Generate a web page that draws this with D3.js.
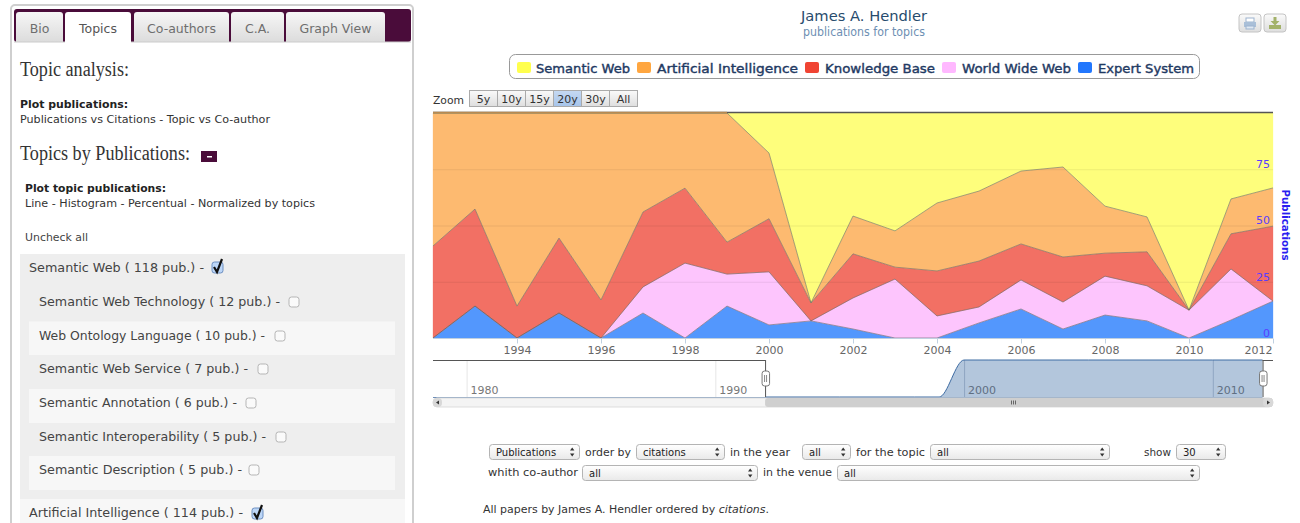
<!DOCTYPE html>
<html><head><meta charset="utf-8">
<script src="https://cdn.jsdelivr.net/npm/d3@7/dist/d3.min.js"></script>
<style>html,body{margin:0;padding:0;background:#fff;overflow:hidden}svg{display:block}</style>
</head><body><div id="c"></div>
<script>
// ---- chart data (percent share per year) ----
const years = [1992,1993,1994,1995,1996,1997,1998,1999,2000,2001,2002,2003,2004,2005,2006,2007,2008,2009,2010,2011,2012];
const expertSystem = [0,14.2,0,11.1,0,11.1,0,14.2,5.8,7.6,4,0,0,6.7,12.9,4,10.2,7.6,0,8,16.4];
const worldWideWeb = [0,0,0,0,0,11.6,33.3,14.2,23.6,0,13.8,26.2,9.8,7.1,12.9,12,17.3,15.6,12.4,22.7,0];
const knowledgeBase = [40.9,43.1,14.2,33.3,16.9,33.3,33.3,14.2,23.6,8,19.6,5.3,20,20.4,16,20,10.2,15.1,0,15.6,33.3];
const artificialIntelligence = [59.1,42.7,85.8,55.6,83.1,44,33.4,57.4,29.2,0,16.8,16.1,30.2,31.1,32.4,40,20.9,15.5,0,15.5,17];
const semanticWeb = [0,0,0,0,0,0,0,0,17.8,84.4,45.8,52.4,40,34.7,25.8,24,41.4,46.2,87.6,38.2,33.3];
const seriesNames = ["Semantic Web","Artificial Intelligence","Knowledge Base","World Wide Web","Expert System"];
const yTicks = [0,25,50,75];
const xTicks = [1994,1996,1998,2000,2002,2004,2006,2008,2010,2012];
const navYears = [1978,1985,1990,1995,1998,1999,2000,2001,2005,2010,2013];
const navValues = [0,0,0,0,0,0,100,100,100,100,100];
const navTicks = [1980,1990,2000,2010];
const zoomLabels = ["5y","10y","15y","20y","30y","All"];
const topicRows = [["Semantic Web Technology ( 12 pub.) -"],["Web Ontology Language ( 10 pub.) -"],["Semantic Web Service ( 7 pub.) -"],["Semantic Annotation ( 6 pub.) -"],["Semantic Interoperability ( 5 pub.) -"],["Semantic Description ( 5 pub.) -"]];

// ---- styles ----
const areaColors = {"Semantic Web":"#fefe7c","Artificial Intelligence":"#fdba70","Knowledge Base":"#f27064","World Wide Web":"#fdc5fd","Expert System":"#5397fd"};
const swatchColors = ["#ffff4d","#ffa640","#f04433","#ffb8ff","#2277fd"];
const SANS = "'DejaVu Sans',sans-serif", SERIF = "'Liberation Serif',serif";

const svg = d3.select("#c").append("svg").attr("width",1300).attr("height",523);
const defs = svg.append("defs");
const grad = (id,a,b)=>{const g=defs.append("linearGradient").attr("id",id).attr("x1",0).attr("x2",0).attr("y1",0).attr("y2",1);
  g.append("stop").attr("offset",0).attr("stop-color",a);g.append("stop").attr("offset",1).attr("stop-color",b);};
grad("tabG","#f6f6f6","#dcdcdc"); grad("selG","#ffffff","#e9e9e9"); grad("btnG","#fafafa","#dedede"); grad("selBtn","#c6d9f2","#a6c4ea");

function t(x,y,s,o={}){
  const e=svg.append("text").attr("x",x).attr("y",y).text(s)
    .attr("font-family",o.font||SANS).attr("font-size",o.size||12).attr("fill",o.fill||"#333")
    .attr("text-anchor",o.anchor||"start");
  if(o.weight)e.attr("font-weight",o.weight);
  if(o.italic)e.attr("font-style","italic");
  if(o.w)e.attr("textLength",o.w).attr("lengthAdjust","spacingAndGlyphs");
  return e;
}
function rect(x,y,w,h,fill,o={}){
  return svg.append("rect").attr("x",x).attr("y",y).attr("width",w).attr("height",h).attr("fill",fill)
    .attr("rx",o.rx||0).attr("stroke",o.stroke||"none").attr("stroke-width",o.sw||1);
}
function hline(x1,y1,x2,y2,c,sw=1){return svg.append("line").attr("x1",x1).attr("y1",y1).attr("x2",x2).attr("y2",y2).attr("stroke",c).attr("stroke-width",sw);}

// ---- left panel ----
rect(11,5,402,530,"#fff",{rx:4,stroke:"#cfcfcf",sw:2});
rect(14,9,397,33,"#4a0c3a",{rx:3});
[["Bio",16,47,0],["Topics",65,66,1],["Co-authors",134,95,0],["C.A.",231,53,0],["Graph View",286,99,0]].forEach(([s,x,w,a])=>{
  svg.append("path").attr("d",`M${x},${a?44:42}V15Q${x},12 ${x+3},12H${x+w-3}Q${x+w},12 ${x+w},15V${a?44:42}Z`).attr("fill",a?"#fff":"url(#tabG)");
  t(x+w/2,32.5,s,{size:12.5,anchor:"middle",fill:a?"#555":"#6e6e6e"});
});
hline(14,42,65,42,"#ccc");hline(131,42,411,42,"#ccc");
t(20,76,"Topic analysis:",{font:SERIF,size:20,fill:"#333",w:109});
t(20,108,"Plot publications:",{size:11,weight:"bold",fill:"#222",w:108});
t(20,123,"Publications vs Citations - Topic vs Co-author",{size:11,fill:"#333",w:250});
t(20,160,"Topics by Publications:",{font:SERIF,size:20,fill:"#333",w:170});
rect(201,151,16,11,"#4a0c3a");rect(207,156,5,1.5,"#fff");
t(25,192,"Plot topic publications:",{size:11,weight:"bold",fill:"#222",w:141});
t(25,207,"Line - Histogram - Percentual - Normalized by topics",{size:11,fill:"#333",w:290});
t(25,241,"Uncheck all",{size:11,fill:"#444",w:63});
rect(20,254,385,245,"#eeeeee");
rect(20,499,385,24,"#f7f7f7");
[321.5,389,456].forEach(y=>rect(29,y,366,y<330?33.5:34,"#f7f7f7"));
function checkbox(x,y,on){
  if(on){
    rect(x,y,11,11,"#bcd6f7",{rx:2.5,stroke:"#6d8fc0"});
    svg.append("path").attr("d",`M${x+2},${y+5}L${x+5},${y+10}L${x+10},${y-3}`).attr("fill","none").attr("stroke","#111").attr("stroke-width",2.2);
  } else rect(x,y,10,10,"#fafafa",{rx:2.5,stroke:"#b5b5b5"});
}
t(29,272,"Semantic Web ( 118 pub.) -",{size:12.5,fill:"#444",w:175});
checkbox(212,262,true);
const rowBase=[306,340,373,407,441,474], rowBox=[289,275,258,246,276,249], rowW=[241,226,209,198,227,203];
topicRows.forEach((r,i)=>{
  t(39,rowBase[i],r[0],{size:12.5,fill:"#444",w:rowW[i]});
  checkbox(rowBox[i],rowBase[i]-9,false);
});
t(29,517,"Artificial Intelligence ( 114 pub.) -",{size:12.5,fill:"#444",w:214});
checkbox(252,508,true);

// ---- title, legend, buttons ----
t(864,21,"James A. Hendler",{size:14,anchor:"middle",fill:"#274b6d",w:126});
t(864,36,"publications for topics",{size:11.5,anchor:"middle",fill:"#6d8fb3",w:122});
[[1239,"p"],[1264,"d"]].forEach(([x,k])=>{
  rect(x,14,22,18,"url(#btnG)",{rx:3,stroke:"#c4c4c4"});
  if(k==="p"){
    rect(x+7,18,8,4,"#fff",{stroke:"#9db4cf"});rect(x+5,22,12,5,"#a9bfd8");rect(x+7,26,8,3,"#dfe8f2",{stroke:"#9db4cf"});
  } else {
    rect(x+5,25,12,4,"#a3b26a");
    svg.append("path").attr("d",`M${x+9.5},17h3v4h3l-4.5,4.5l-4.5,-4.5h3z`).attr("fill","#a3b26a");
  }
});
rect(509.5,54.5,690,24,"#fff",{rx:6,stroke:"#999"});
const legX=[517,637,805,942,1078], legT=[536,657,825,962,1098], legW=[94,141,110,109,96];
seriesNames.forEach((n,i)=>{
  rect(legX[i],62,14,11,swatchColors[i],{rx:2});
  t(legT[i],73,n,{size:12.5,fill:"#1f3a63",w:legW[i]}).attr("stroke","#1f3a63").attr("stroke-width",.4);
});
t(433,104,"Zoom",{size:11,fill:"#333",w:31});
const zx=d3.scaleBand().domain(zoomLabels).range([469.5,637.5]);
zoomLabels.forEach(z=>{
  rect(zx(z),90.5,zx.bandwidth(),16,z==="20y"?"url(#selBtn)":"url(#btnG)",{stroke:"#aaa"});
  t(zx(z)+zx.bandwidth()/2,103,z,{size:11,anchor:"middle",fill:"#333"});
});

// ---- main stacked area ----
const plot={l:433,r:1273,t:113,b:338};
const x=d3.scaleLinear().domain([1992,2012]).range([plot.l,plot.r]);
const y=d3.scaleLinear().domain([0,100]).range([plot.b,plot.t]);
const byName={"Semantic Web":semanticWeb,"Artificial Intelligence":artificialIntelligence,"Knowledge Base":knowledgeBase,"World Wide Web":worldWideWeb,"Expert System":expertSystem};
const table=years.map((yr,i)=>{const o={year:yr};seriesNames.forEach(n=>o[n]=byName[n][i]);return o;});
const stackOrder=[...seriesNames].reverse();
const layers=d3.stack().keys(stackOrder)(table);
const area=d3.area().x(d=>x(d.data.year)).y0(d=>y(d[0])).y1(d=>y(d[1]));
const line=d3.line().x(d=>x(d.data.year)).y(d=>y(d[1]));
const g=svg.append("g");
g.selectAll("path.a").data(layers).join("path").attr("class","a").attr("d",area).attr("fill",d=>areaColors[d.key]).attr("stroke",d=>areaColors[d.key]).attr("stroke-width",.3);
g.selectAll("line.grid").data(yTicks.filter(v=>v>0)).join("line").attr("class","grid")
  .attr("x1",plot.l).attr("x2",plot.r).attr("y1",d=>y(d)+.5).attr("y2",d=>y(d)+.5).attr("stroke","#000").attr("stroke-opacity",.07);
g.selectAll("path.l").data(layers.filter(d=>d.key!=="Semantic Web")).join("path").attr("class","l").attr("d",line).attr("fill","none").attr("stroke","#666").attr("stroke-opacity",.75).attr("stroke-width",.8);
hline(plot.l,112.5,plot.r,112.5,"#555",1.4);
hline(plot.l,112.5,x(1999),112.5,"#b98a50",1.4);
hline(plot.l,338.5,plot.r,338.5,"#c0d0e0",1);

const xa=svg.append("g").attr("transform",`translate(0,${plot.b+.5})`).call(d3.axisBottom(x).tickValues(xTicks).tickFormat(d3.format("d")).tickSize(5).tickPadding(3));
xa.select(".domain").remove();
xa.selectAll("line").attr("stroke","#c0d0e0");
xa.selectAll("text").attr("font-family",SANS).attr("font-size",11).attr("fill","#666").attr("text-anchor",d=>d===2012?"end":"middle").attr("dx",d=>d===2012?-1:0);
const ya=svg.append("g").attr("transform",`translate(${plot.r-3},0)`).call(d3.axisLeft(y).tickValues(yTicks).tickSize(0).tickPadding(0));
ya.select(".domain").remove();
ya.selectAll("text").attr("font-family",SANS).attr("font-size",11).attr("fill","#5a3dff").attr("dy","-1.7");
t(0,0,"Publications",{size:11,weight:"bold",fill:"#2a1cf0",anchor:"middle",w:71}).attr("x",null).attr("y",null).attr("transform","translate(1282,225) rotate(90)");

// ---- navigator ----
const nav={t:360,b:397};
const xN=d3.scaleLinear().domain([1978.65,2012.42]).range([plot.l,plot.r]);
const yN=d3.scaleLinear().domain([0,100]).range([nav.b,nav.t]);
const xa0=xN(1992), xa1=xN(2012);
defs.append("clipPath").attr("id","navSel").append("rect").attr("x",xa0).attr("y",nav.t-2).attr("width",xa1-xa0).attr("height",nav.b-nav.t+4);
const navData=navYears.map((yr,i)=>({yr,v:navValues[i]}));
svg.append("path").datum(navData).attr("clip-path","url(#navSel)")
  .attr("d",d3.area().curve(d3.curveMonotoneX).x(d=>xN(d.yr)).y0(nav.b).y1(d=>yN(d.v))).attr("fill","#b3c6dc");
navTicks.forEach(v=>{
  const on=v>=1992;
  hline(xN(v)+.5,nav.t,xN(v)+.5,nav.b,on?"#8fa5c2":"#e6e6e6");
  t(xN(v)+4,394,String(v),{size:11,fill:on?"#5f6f82":"#777"});
});
hline(plot.l,nav.b+.5,xa1,nav.b+.5,"#6f8fb8");
svg.append("path").datum(navData).attr("clip-path","url(#navSel)")
  .attr("d",d3.line().curve(d3.curveMonotoneX).x(d=>xN(d.yr)).y(d=>yN(d.v))).attr("fill","none").attr("stroke","#3f6ca3").attr("stroke-width",1);
hline(plot.l,nav.t+.5,xa0,nav.t+.5,"#555");
hline(xa1,nav.t+.5,plot.r,nav.t+.5,"#555");
[xa0,xa1].forEach(hx=>{
  hline(hx+.5,nav.t,hx+.5,nav.b,"#555");
  rect(hx-3,371,7.5,15,"#fff",{rx:2.5,stroke:"#777"});
  hline(hx-.5,375,hx-.5,382,"#888");hline(hx+1.5,375,hx+1.5,382,"#888");
});
// scrollbar
rect(433,398,840,9,"#f4f4f4",{rx:4,stroke:"#ddd"});
rect(xa0,398,xa1-xa0+10,9,"#cfcfcf",{rx:3});
rect(433,398,9,9,"#d8d8d8",{rx:4});
svg.append("path").attr("d","M439,400.5l-3,2l3,2z").attr("fill","#333");
rect(1263,398,10,9,"#d8d8d8",{rx:4});
svg.append("path").attr("d","M1267,400.5l3,2l-3,2z").attr("fill","#333");
[1011,1013,1015].forEach(v=>hline(v+.5,400.5,v+.5,404.5,"#666"));

// ---- form controls ----
function sel(x0,x1,yy,label){
  rect(x0+.5,yy+.5,x1-x0,15,"url(#selG)",{rx:3,stroke:"#b4b4b4"});
  t(x0+7,yy+12,label,{size:10,fill:"#222"});
  svg.append("path").attr("d",`M${x1-9},${yy+6.5}l2.2,-3l2.2,3zM${x1-9},${yy+9.5}l2.2,3l2.2,-3z`).attr("fill","#333");
}
const F={size:11,fill:"#333"};
sel(489,579,444,"Publications");t(585,456,"order by",{...F,w:46});
sel(636,724,444,"citations");t(730,456,"in the year",{...F,w:60});
sel(802,850,444,"all");t(856,456,"for the topic",{...F,w:69});
sel(930,1109,444,"all");t(1144,456,"show",{...F,w:27});
sel(1176,1225,444,"30");
t(488,476,"whith co-author",{...F,w:90});sel(582,757,465,"all");
t(763,476,"in the venue",{...F,w:69});sel(837,1199,465,"all");
const para=t(483,513,"All papers by James A. Hendler ordered by ",{...F,fill:"#333"});
para.append("tspan").attr("font-style","italic").text("citations");
para.append("tspan").text(".");
para.attr("textLength",286).attr("lengthAdjust","spacingAndGlyphs");
</script></body></html>
